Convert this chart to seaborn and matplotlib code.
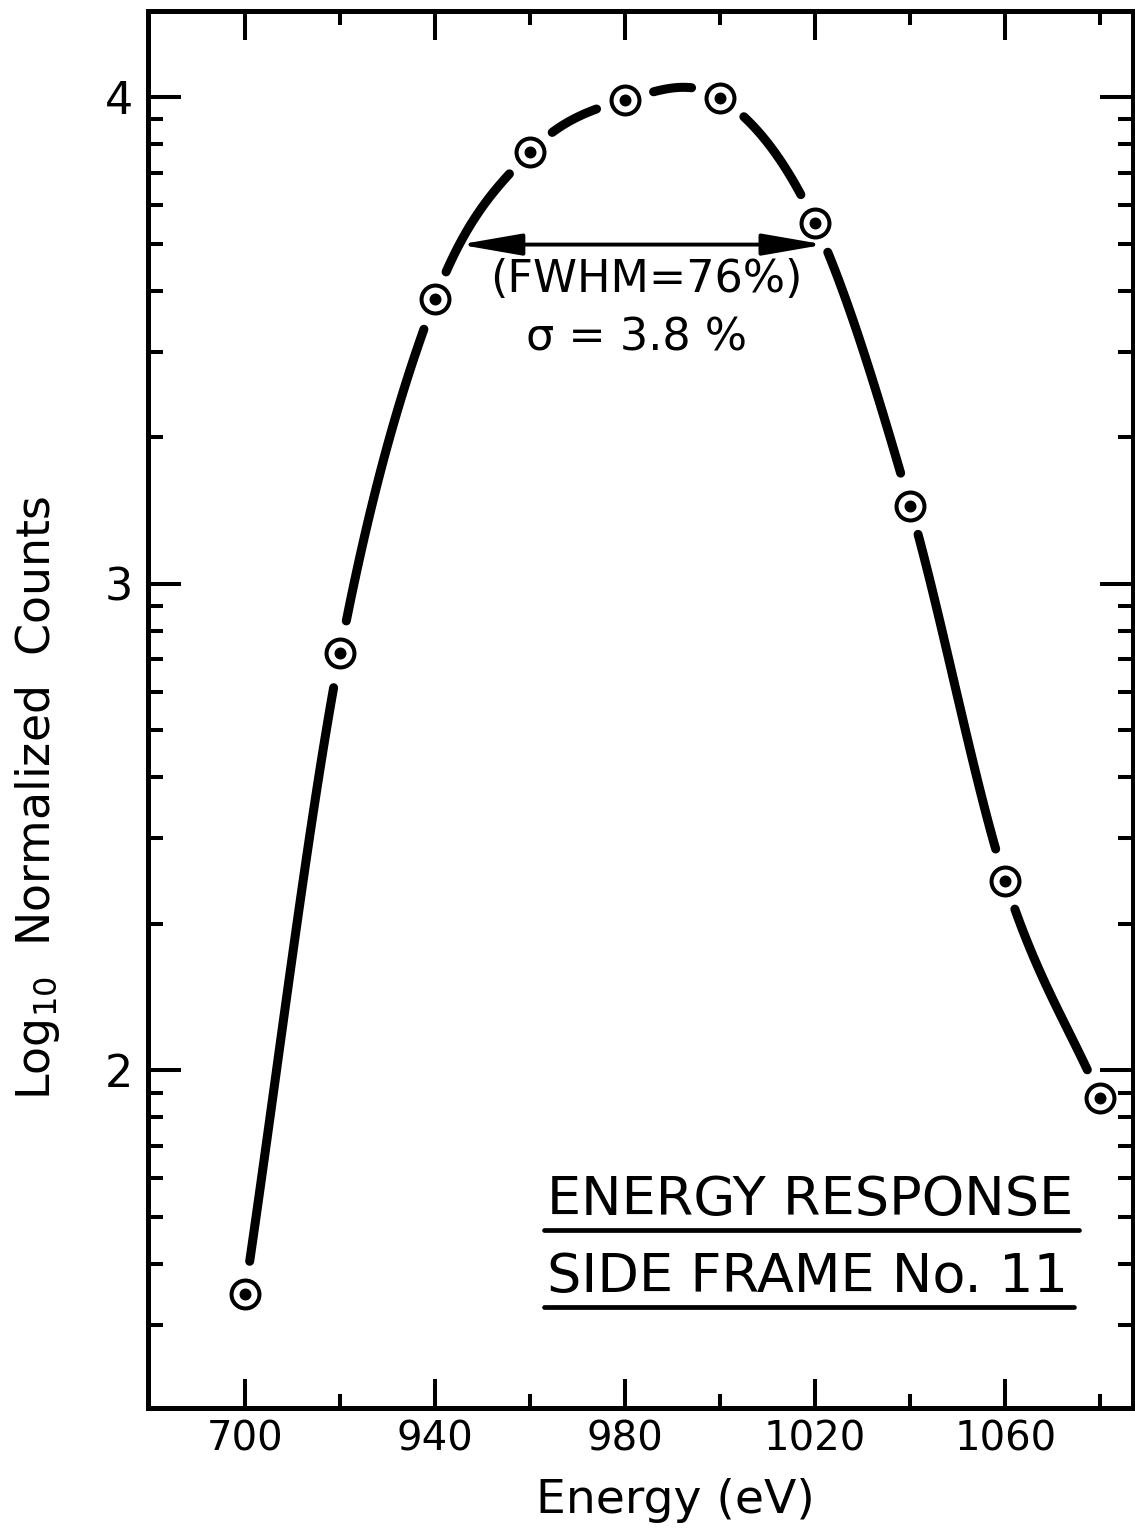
import numpy as np
import pandas as pd
import matplotlib
matplotlib.use("Agg")
import matplotlib.pyplot as plt
import seaborn as sns

# Measured energy response of side frame No. 11
energy_ev = [900, 920, 940, 960, 980, 1000, 1020, 1040, 1060, 1080]
log_counts = [1.541, 2.857, 3.585, 3.887, 3.994, 3.998, 3.741, 3.160, 2.390, 1.943]

# Axis ticks and their printed labels
x_major = [900, 940, 980, 1020, 1060]
x_major_labels = ["700", "940", "980", "1020", "1060"]
x_minor = [920, 960, 1000, 1040, 1080]
y_major = [2, 3, 4]
y_major_labels = ["2", "3", "4"]

title_lines = ["ENERGY RESPONSE", "SIDE FRAME No. 11"]
fwhm_text = "(FWHM=76%)"
sigma_text = "\u03c3 = 3.8 %"
x_label = "Energy (eV)"
y_label = r"Log$_{10}$  Normalized  Counts"


def hermite_curve(xs, ys, n=60):
    """Smooth Catmull-Rom style cubic through the measured points."""
    xs = np.asarray(xs, float)
    ys = np.asarray(ys, float)
    m = np.empty_like(ys)
    m[1:-1] = (ys[2:] - ys[:-2]) / (xs[2:] - xs[:-2])
    m[0] = (ys[1] - ys[0]) / (xs[1] - xs[0])
    m[-1] = (ys[-1] - ys[-2]) / (xs[-1] - xs[-2])
    out_x, out_y = [], []
    for i in range(len(xs) - 1):
        h = xs[i + 1] - xs[i]
        t = np.linspace(0, 1, n, endpoint=(i == len(xs) - 2))
        h00 = 2 * t**3 - 3 * t**2 + 1
        h10 = t**3 - 2 * t**2 + t
        h01 = -2 * t**3 + 3 * t**2
        h11 = t**3 - t**2
        out_x.append(xs[i] + t * h)
        out_y.append(h00 * ys[i] + h10 * h * m[i] + h01 * ys[i + 1] + h11 * h * m[i + 1])
    return np.concatenate(out_x), np.concatenate(out_y)


sns.set_theme(style="ticks")
plt.rcParams["font.family"] = ["DejaVu Sans"]
plt.rcParams["axes.linewidth"] = 3.6
plt.rcParams["axes.edgecolor"] = "black"

fig = plt.figure(figsize=(11.35, 15.30), dpi=100)
ax = fig.add_axes([148 / 1135, 122 / 1530, 985 / 1135, 1397 / 1530])
ax.set_xlim(879.6, 1086.9)
ax.set_ylim(1.306, 4.177)

# Smooth response curve, broken around each plotted point
cx, cy = hermite_curve(energy_ev, log_counts)
disp_curve = ax.transData.transform(np.column_stack([cx, cy]))
disp_pts = ax.transData.transform(np.column_stack([energy_ev, log_counts]))
dist = np.min(
    np.hypot(disp_curve[:, None, 0] - disp_pts[None, :, 0],
             disp_curve[:, None, 1] - disp_pts[None, :, 1]),
    axis=1,
)
keep = dist > 29
seg = np.cumsum(~keep)
curve_df = pd.DataFrame({"energy": cx[keep], "log": cy[keep], "seg": seg[keep]})
sns.lineplot(data=curve_df, x="energy", y="log", units="seg", estimator=None,
             sort=False, color="black", linewidth=6.5, solid_capstyle="round",
             ax=ax, zorder=2, legend=False)

# Bull's-eye markers: open ring with a solid centre dot
pts_df = pd.DataFrame({"energy": energy_ev, "log": log_counts})
sns.scatterplot(data=pts_df, x="energy", y="log", s=404, marker="o",
                facecolor="white", edgecolor="black", linewidth=2.9,
                ax=ax, zorder=3, legend=False)
sns.scatterplot(data=pts_df, x="energy", y="log", s=74, marker="o",
                color="black", linewidth=0, ax=ax, zorder=4, legend=False)

# Full width at half maximum, taken from the smooth curve
half = max(log_counts) - np.log10(2)
above = cy >= half
idx = np.where(np.diff(above.astype(int)) != 0)[0]
cross = [cx[i] + (half - cy[i]) * (cx[i + 1] - cx[i]) / (cy[i + 1] - cy[i]) for i in idx]
ax.annotate("", xy=(cross[-1], half), xytext=(cross[0], half),
            arrowprops=dict(arrowstyle="<|-|>,head_length=1.9,head_width=0.33",
                            mutation_scale=20, lw=2.8, color="black",
                            shrinkA=0, shrinkB=0),
            zorder=5)
ax.text(0.5056, 0.808, fwhm_text, transform=ax.transAxes, ha="center",
        va="center", fontsize=32, color="black")
ax.text(0.4964, 0.766, sigma_text, transform=ax.transAxes, ha="center",
        va="center", fontsize=32, color="black")

# Ticks
ax.set_xticks(x_major)
ax.set_xticklabels(x_major_labels)
ax.set_xticks(x_minor, minor=True)
ax.set_yticks(y_major)
ax.set_yticklabels(y_major_labels)
y_lo, y_hi = ax.get_ylim()
y_minor = [np.log10(k * 10.0**n) for n in range(1, 4) for k in range(2, 10)]
y_minor = [v for v in y_minor if y_lo < v < y_hi]
ax.set_yticks(y_minor, minor=True)

ax.tick_params(axis="both", which="both", direction="in", top=True, right=True,
               labeltop=False, labelright=False, width=2.9, color="black",
               labelcolor="black")
ax.tick_params(axis="x", which="major", length=21, pad=8, labelsize=29)
ax.tick_params(axis="x", which="minor", length=10)
ax.tick_params(axis="y", which="major", length=24, pad=11, labelsize=32)
ax.tick_params(axis="y", which="minor", length=11)

ax.set_xlabel(x_label, fontsize=34, color="black")
ax.xaxis.set_label_coords(0.535, -0.0659)
ax.xaxis.label.set_va("center")
ax.set_ylabel(y_label, fontsize=33, color="black")
ax.yaxis.set_label_coords(-0.112, 0.437)
ax.yaxis.label.set_va("center")

for side in ["left", "right", "top", "bottom"]:
    ax.spines[side].set_visible(True)
    ax.spines[side].set_linewidth(3.6)
    ax.spines[side].set_color("black")

# Caption block with underlines
caption_y = [0.1382, 0.0830]
caption_texts = []
for line, yy in zip(title_lines, caption_y):
    caption_texts.append(ax.text(0.405, yy, line, transform=ax.transAxes,
                                 ha="left", va="baseline", fontsize=39,
                                 color="black"))

fig.canvas.draw()
renderer = fig.canvas.get_renderer()
to_axes = ax.transAxes.inverted()
for t in caption_texts:
    bb = t.get_window_extent(renderer)
    (x0, y0), (x1, _) = to_axes.transform([[bb.x0 - 3, bb.y0], [bb.x1 + 6, bb.y0]])
    ax.plot([x0, x1], [y0 - 0.0030, y0 - 0.0030], transform=ax.transAxes,
            color="black", lw=3.4, solid_capstyle="round", clip_on=False, zorder=5)

fig.savefig("out.png", dpi=100)
